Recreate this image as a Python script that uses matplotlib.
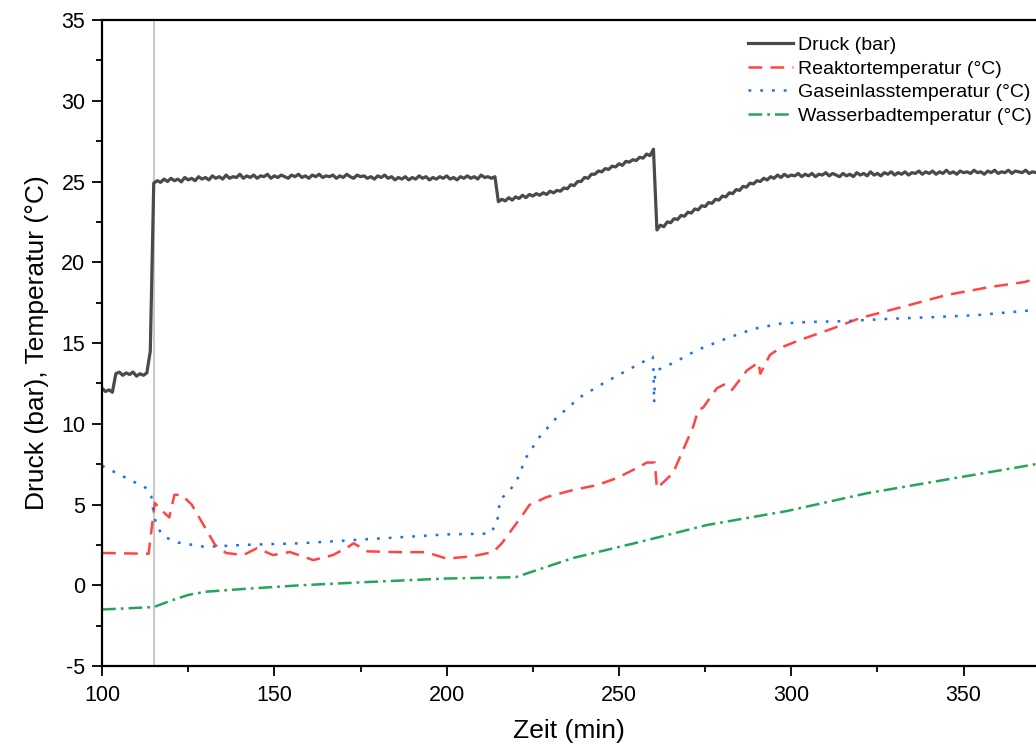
import matplotlib
matplotlib.use("Agg")
import matplotlib.pyplot as plt
import numpy as np

plt.rcParams['font.family'] = ['Liberation Sans', 'DejaVu Sans']
plt.rcParams['axes.unicode_minus'] = False

# pressure, one reading per minute from 100 min on
pressure = [
    12.2, 12.0, 12.1, 11.95, 13.1,
    13.2, 13.0, 13.15, 13.05, 13.2, 12.95, 13.1, 13.0, 13.15,
    14.5, 24.9,
    25.05, 24.95, 25.15, 25.0, 25.2, 25.05, 25.15, 24.98, 25.25, 25.1,
    25.2, 25.05, 25.3, 25.15, 25.25, 25.1, 25.35, 25.2, 25.3, 25.15,
    25.4, 25.2, 25.3, 25.25, 25.45, 25.2, 25.35, 25.25, 25.4, 25.2,
    25.35, 25.3, 25.45, 25.2, 25.35, 25.25, 25.4, 25.3, 25.2, 25.4,
    25.3, 25.45, 25.25, 25.35, 25.2, 25.4, 25.3, 25.45, 25.25, 25.35,
    25.3, 25.4, 25.2, 25.35, 25.25, 25.45, 25.3, 25.2, 25.4, 25.3,
    25.35, 25.2, 25.3, 25.15, 25.35, 25.25, 25.4, 25.2, 25.3, 25.1,
    25.25, 25.15, 25.3, 25.1, 25.25, 25.15, 25.35, 25.2, 25.3, 25.1,
    25.25, 25.15, 25.3, 25.2, 25.35, 25.15, 25.25, 25.1, 25.3, 25.2,
    25.35, 25.2, 25.3, 25.15, 25.4, 25.25, 25.3, 25.2,
    25.3,
    23.75, 23.9, 23.8, 24.0, 23.85, 24.05, 23.95, 24.15, 24.0, 24.2,
    24.1, 24.25, 24.15, 24.3, 24.2, 24.4, 24.3, 24.45, 24.4, 24.6,
    24.55, 24.8, 24.75, 25.0, 25.0, 25.25, 25.2, 25.45, 25.45, 25.65,
    25.6, 25.8, 25.75, 25.95, 25.9, 26.1, 26.0, 26.25, 26.2, 26.35,
    26.3, 26.5, 26.45, 26.7, 26.6, 27.0,
    22.0, 22.3, 22.2, 22.5, 22.45, 22.7, 22.65, 22.9, 22.85, 23.1,
    23.05, 23.3, 23.25, 23.5, 23.45, 23.7, 23.65, 23.9, 23.85, 24.1,
    24.05, 24.3, 24.25, 24.5, 24.45, 24.7, 24.65, 24.9, 24.85, 25.05,
    25.0, 25.2, 25.1, 25.3, 25.2, 25.4, 25.25, 25.45, 25.3, 25.4,
    25.35, 25.5, 25.3, 25.45, 25.35, 25.5, 25.3, 25.45, 25.4, 25.55,
    25.35, 25.5, 25.4, 25.3, 25.5, 25.35, 25.45, 25.3, 25.55, 25.4,
    25.5, 25.35, 25.6, 25.4, 25.5, 25.35, 25.55, 25.45, 25.6, 25.4,
    25.55, 25.45, 25.6, 25.4, 25.55, 25.5, 25.65, 25.45, 25.6, 25.5,
    25.65, 25.45, 25.6, 25.5, 25.7, 25.5, 25.6, 25.45, 25.65, 25.55,
    25.6, 25.5, 25.7, 25.55, 25.6, 25.45, 25.65, 25.55, 25.7, 25.5,
    25.6, 25.55, 25.7, 25.5, 25.65, 25.6, 25.55, 25.7, 25.5, 25.6, 25.55,
]
p_time = np.arange(100, 100 + len(pressure))

r_time = [100, 113.5, 115.3, 117, 119.5, 121, 123, 126, 132.8, 136, 141, 145,
          149.6, 154.5, 161.3, 167, 171.4, 173, 177, 186.5, 194, 200, 207.6,
          213.5, 216, 218.4, 222, 224, 229, 236.7, 243.6, 249.4, 255.2, 258.1,
          260.4, 261, 265.7, 267.7, 271.5, 273, 274.4, 278.4, 280.8, 282.8,
          287.1, 290.5, 291, 293.8, 296.7, 302.5, 312, 320, 331.6, 345, 357.7,
          367.8, 371]
r_temp = [2.0, 1.95, 5.1, 4.7, 4.2, 5.6, 5.6, 5.0, 2.5, 2.0, 1.87, 2.3,
          1.87, 2.06, 1.56, 1.87, 2.37, 2.6, 2.1, 2.05, 2.05, 1.65, 1.8,
          2.06, 2.6, 3.3, 4.35, 4.97, 5.46, 5.9, 6.2, 6.64, 7.26, 7.6,
          7.6, 6.0, 6.95, 7.94, 9.8, 10.85, 11.0, 12.2, 12.46, 12.1,
          13.3, 13.8, 13.1, 14.26, 14.69, 15.19, 15.9, 16.55, 17.2, 17.97, 18.47,
          18.78, 19.0]

g_time = [100, 113, 114.3, 115, 116, 118, 122, 130, 141, 157.5, 173, 200,
          212.6, 214.6, 215.5, 217, 220, 223, 227, 232, 238.7, 245.4, 252.3,
          259.8, 260.0, 260.2, 260.5, 262, 265.7, 272.7, 281.4, 289, 296.7,
          304.6, 316, 328.6, 341, 354, 371]
g_temp = [7.4, 6.0, 5.5, 4.4, 3.6, 3.0, 2.65, 2.37, 2.5, 2.6, 2.8, 3.15,
          3.2, 3.85, 5.3, 5.6, 6.3, 7.9, 9.2, 10.4, 11.65, 12.5, 13.3,
          14.15, 13.3, 11.3, 13.3, 13.4, 13.76, 14.57, 15.3, 15.87, 16.2,
          16.3, 16.36, 16.5, 16.6, 16.73, 17.05]

w_time = [100, 115, 120, 125, 130, 141, 157.5, 177, 200, 220, 236.7, 256,
          275.5, 298.8, 322, 371]
w_temp = [-1.5, -1.35, -0.95, -0.6, -0.4, -0.23, 0.0, 0.2, 0.42, 0.5, 1.69,
          2.68, 3.73, 4.6, 5.7, 7.5]

labels = ['Druck (bar)', 'Reaktortemperatur (°C)',
          'Gaseinlasstemperatur (°C)', 'Wasserbadtemperatur (°C)']

fig = plt.figure(figsize=(10.36, 7.47), dpi=100)
ax = fig.add_axes([0.0985, 0.1084, 0.9015, 0.8648])

ax.axvline(115, color='#c4c4c4', lw=1.3, zorder=1)

ax.plot(p_time, pressure, color='#4a4a4a', lw=2.3, label=labels[0])
ax.plot(r_time, r_temp, color='#ff4545', lw=1.8, ls=(0, (5.5, 3.3)), label=labels[1])
ax.plot(g_time, g_temp, color='#1f6fe5', lw=1.8, ls=(0, (1.1, 3.6)), label=labels[2])
ax.plot(w_time, w_temp, color='#25a55a', lw=1.8, ls=(0, (5.5, 2.0, 1.1, 2.0)), label=labels[3])

ax.set_xlim(100, 371)
ax.set_ylim(-5, 35)
ax.set_xticks([100, 150, 200, 250, 300, 350])
ax.set_xticks([125, 175, 225, 275, 325], minor=True)
ax.set_yticks(np.arange(-5, 36, 5))
ax.set_yticks(np.arange(-2.5, 35, 5), minor=True)
ax.tick_params(which='major', direction='out', length=7, width=1.3, labelsize=15.5)
ax.tick_params(axis='y', which='major', pad=5)
ax.tick_params(axis='x', which='major', pad=7)
ax.tick_params(which='minor', direction='out', length=4, width=1.3)
ax.tick_params(top=False, right=False)
for s in ['left', 'bottom', 'top']:
    ax.spines[s].set_linewidth(1.6)
ax.spines['right'].set_visible(False)

ax.set_xlabel('Zeit (min)', fontsize=19, labelpad=9)
ax.set_ylabel('Druck (bar), Temperatur (°C)', fontsize=19, labelpad=9)

fig.legend(loc='upper right', bbox_to_anchor=(0.996, 0.951), frameon=False,
           fontsize=14, handlelength=2.3, handletextpad=0.26, labelspacing=0.3,
           borderaxespad=0, borderpad=0)

fig.savefig('out.png', dpi=100)
